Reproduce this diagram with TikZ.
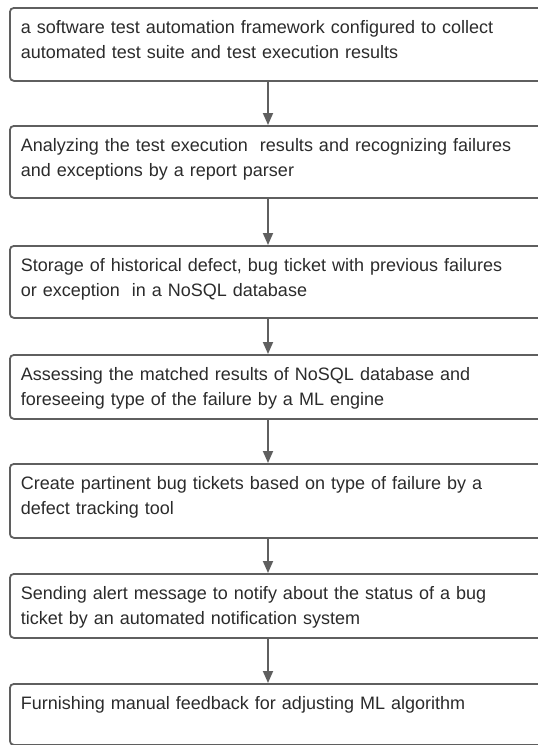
\documentclass[tikz,border=0pt]{standalone}
\usepackage{fontspec}
\setmainfont{Liberation Sans}
\usetikzlibrary{arrows.meta}
\definecolor{edge}{HTML}{5F5F5F}
\definecolor{ink}{HTML}{2B2B2B}
\tikzset{
  stepbox/.style={draw=edge, line width=1.8pt, rounded corners=4pt,
    anchor=north west, inner xsep=11pt, inner ysep=0pt,
    text width=515pt, align=left, text=ink, text height=26pt,
    font=\fontsize{18}{24.5}\selectfont},
  flow/.style={draw=edge, line width=1.8pt,
    -{Triangle[width=10pt,length=12pt]}}
}
\begin{document}
\begin{tikzpicture}[x=1pt, y=-1pt]
  \useasboundingbox (0,0) rectangle (538,745);
  \coordinate (axis) at (268,0);
  \node[stepbox, text depth=47pt] (b1) at (9,7)
    {a software test automation framework configured to collect\\automated test suite and test execution results};
  \node[stepbox, text depth=46pt] (b2) at (9,125)
    {Analyzing the test execution\ \ results and recognizing failures\\and exceptions by a report parser};
  \node[stepbox, text depth=46pt] (b3) at (9,245)
    {Storage of historical defect, bug ticket with previous failures\\or exception\ \ in a NoSQL database};
  \node[stepbox, text depth=38pt] (b4) at (9,354)
    {Assessing the matched results of NoSQL database and\\foreseeing type of the failure by a ML engine};
  \node[stepbox, text depth=48pt] (b5) at (9,463)
    {Create partinent bug tickets based on type of failure by a\\defect tracking tool};
  \node[stepbox, text depth=38pt] (b6) at (9,573)
    {Sending alert message to notify about the status of a bug\\ticket by an automated notification system};
  \node[stepbox, text depth=35pt] (b7) at (9,683)
    {Furnishing manual feedback for adjusting ML algorithm};
  \foreach \a/\b in {b1/b2,b2/b3,b3/b4,b4/b5,b5/b6,b6/b7}
    \draw[flow] (\a.south -| axis) -- (\b.north -| axis);
\end{tikzpicture}
\end{document}
